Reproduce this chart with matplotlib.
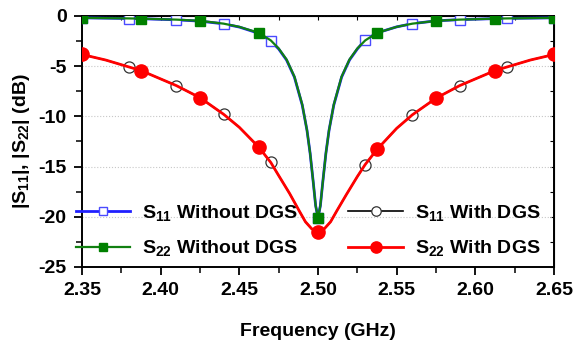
import matplotlib
matplotlib.use('Agg')
import matplotlib.pyplot as plt
from matplotlib.ticker import MultipleLocator
import numpy as np

plt.rcParams['font.family'] = ['Liberation Sans', 'DejaVu Sans']
plt.rcParams['font.weight'] = 'bold'
plt.rcParams['mathtext.fontset'] = 'custom'
plt.rcParams['mathtext.rm'] = 'Liberation Sans:bold'
plt.rcParams['mathtext.default'] = 'rm'

# without DGS (narrow resonance) - S11 and S22 nearly identical
freq_no = [2.35, 2.38, 2.3875, 2.41, 2.425, 2.44, 2.45, 2.4625, 2.47, 2.475, 2.48,
           2.485, 2.49, 2.493, 2.495, 2.497, 2.4985, 2.50, 2.5015, 2.503, 2.505,
           2.507, 2.51, 2.515, 2.52, 2.525, 2.53, 2.5375, 2.55, 2.56, 2.575, 2.59,
           2.6125, 2.62, 2.65]
s11_no = [-0.20, -0.27, -0.29, -0.40, -0.53, -0.80, -1.12, -1.75, -2.50, -3.30, -4.40,
          -6.10, -8.90, -11.4, -13.7, -16.6, -18.9, -20.1, -18.9, -16.6, -13.7,
          -11.4, -8.90, -6.10, -4.40, -3.30, -2.40, -1.70, -1.10, -0.78, -0.50, -0.38,
          -0.28, -0.26, -0.20]
s22_no = [-0.20, -0.26, -0.28, -0.38, -0.50, -0.78, -1.10, -1.70, -2.45, -3.25, -4.35,
          -6.05, -8.85, -11.4, -13.7, -16.6, -18.9, -20.1, -18.9, -16.6, -13.7,
          -11.4, -8.85, -6.05, -4.35, -3.25, -2.45, -1.70, -1.10, -0.78, -0.50, -0.38,
          -0.28, -0.26, -0.20]

# with DGS (wide resonance)
freq_dgs = [2.35, 2.365, 2.38, 2.3875, 2.41, 2.425, 2.44, 2.45, 2.4625, 2.47, 2.475,
            2.482, 2.488, 2.492, 2.496, 2.50, 2.504, 2.508, 2.512, 2.518, 2.525,
            2.53, 2.5375, 2.55, 2.56, 2.575, 2.59, 2.6125, 2.62, 2.635, 2.65]
s11_dgs = [-3.85, -4.40, -5.10, -5.45, -6.95, -8.15, -9.80, -11.1, -13.1, -14.6, -15.9,
           -17.7, -19.4, -20.5, -21.2, -21.5, -21.2, -20.5, -19.4, -17.8, -16.0,
           -14.8, -13.3, -11.2, -9.85, -8.20, -6.95, -5.45, -5.10, -4.40, -3.85]
s22_dgs = s11_dgs

# marker positions
mk_s11 = [2.35, 2.38, 2.41, 2.44, 2.47, 2.50, 2.53, 2.56, 2.59, 2.62, 2.65]
mk_s22 = [2.35, 2.3875, 2.425, 2.4625, 2.50, 2.5375, 2.575, 2.6125, 2.65]


def mark_idx(freqs, marks):
    return [i for i, f in enumerate(freqs) if any(abs(f - m) < 1e-6 for m in marks)]


fig = plt.figure(figsize=(5.76, 3.49), dpi=100)
ax = fig.add_axes([0.1424, 0.235, 0.8194, 0.7197])

ax.plot(freq_no, s11_no, color='#2020ff', lw=2.0, marker='s', ms=7, mfc='white',
        mec='#4a4aff', mew=1.0, markevery=mark_idx(freq_no, mk_s11),
        label=r'$S_{11}$ Without DGS', zorder=3)
ax.plot(freq_no, s22_no, color='#118011', lw=1.6, marker='s', ms=7.5, mfc='#008000',
        mec='#008000', markevery=mark_idx(freq_no, mk_s22),
        label=r'$S_{22}$ Without DGS', zorder=4)
ax.plot(freq_dgs, s11_dgs, color='black', lw=1.2, marker='o', ms=8, mfc='white',
        mec='#333333', mew=0.9, markevery=mark_idx(freq_dgs, mk_s11),
        label=r'$S_{11}$ With DGS', zorder=3)
ax.plot(freq_dgs, s22_dgs, color='#ff0000', lw=2.0, marker='o', ms=9.5, mfc='#ff0000',
        mec='#ff0000', markevery=mark_idx(freq_dgs, mk_s22),
        label=r'$S_{22}$ With DGS', zorder=4)

ax.set_xlim(2.35, 2.65)
ax.set_ylim(-25, 0)
ax.xaxis.set_major_locator(MultipleLocator(0.05))
ax.xaxis.set_minor_locator(MultipleLocator(0.025))
ax.yaxis.set_major_locator(MultipleLocator(5))
ax.yaxis.set_minor_locator(MultipleLocator(2.5))
ax.xaxis.set_major_formatter(matplotlib.ticker.FormatStrFormatter('%.2f'))
ax.yaxis.set_major_formatter(matplotlib.ticker.FuncFormatter(lambda v, p: '%d' % v))
ax.tick_params(which='major', direction='out', length=6, width=1.3, labelsize=14, pad=5)
ax.tick_params(which='minor', direction='out', length=4, width=1.1)
ax.grid(axis='y', which='major', color='#c8c8c8', linestyle=':', linewidth=0.8)
for s in ax.spines.values():
    s.set_linewidth(1.4)

top = ax.secondary_xaxis('top')
top.xaxis.set_major_locator(MultipleLocator(0.05))
top.xaxis.set_minor_locator(MultipleLocator(0.025))
top.tick_params(which='both', direction='in', labeltop=False, length=3, width=0.8)
right = ax.secondary_yaxis('right')
right.yaxis.set_major_locator(MultipleLocator(5))
right.yaxis.set_minor_locator(MultipleLocator(2.5))
right.tick_params(which='both', direction='in', labelright=False, length=3, width=0.8)

ax.set_xlabel('Frequency (GHz)', fontsize=14, fontweight='bold', labelpad=17)
ax.set_ylabel(r'$|S_{11}|$, $|S_{22}|$ (dB)', fontsize=14, fontweight='bold', labelpad=5)

leg = ax.legend(ncol=2, loc='upper left', bbox_to_anchor=(-0.013, 0.255), frameon=False,
                fontsize=14, handlelength=2.8, handletextpad=0.6, columnspacing=2.6,
                labelspacing=0.8, borderpad=0, borderaxespad=0, markerscale=0.85)

fig.savefig('out.png', dpi=100)
